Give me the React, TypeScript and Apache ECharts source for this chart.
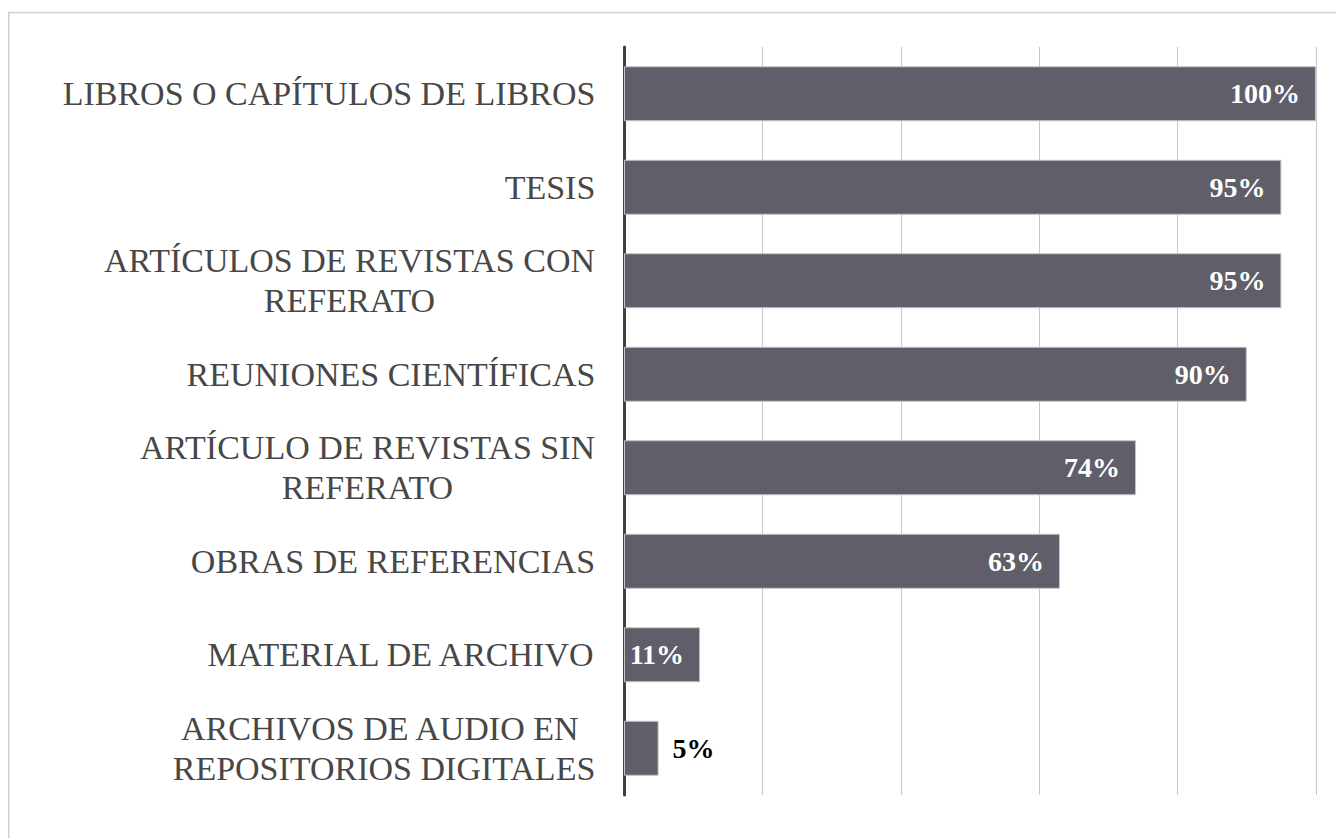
import React, { useEffect, useRef } from "react";
import * as echarts from "echarts";

const categories = [
  "LIBROS O CAPÍTULOS DE LIBROS",
  "TESIS",
  "ARTÍCULOS DE REVISTAS CON\nREFERATO",
  "REUNIONES CIENTÍFICAS",
  "ARTÍCULO DE REVISTAS SIN\nREFERATO",
  "OBRAS DE REFERENCIAS",
  "MATERIAL DE ARCHIVO",
  "ARCHIVOS DE AUDIO EN \nREPOSITORIOS DIGITALES",
];
const values = [100, 95, 95, 90, 74, 63, 11, 5];
const xMin = 0;
const xMax = 100;
const xInterval = 20;

const LABEL_FONT = '"Liberation Serif", "DejaVu Serif", serif';
const LABEL_SIZE = 34;

function measure(text: string): number {
  const c = document.createElement("canvas");
  const ctx = c.getContext("2d");
  if (!ctx) return text.length * LABEL_SIZE * 0.6;
  ctx.font = `${LABEL_SIZE}px ${LABEL_FONT}`;
  return ctx.measureText(text).width;
}

export default function App() {
  const ref = useRef<HTMLDivElement>(null);
  useEffect(() => {
    if (!ref.current) return;
    const chart = echarts.init(ref.current, undefined, { renderer: "svg" });
    const rich: Record<string, any> = {};
    categories.forEach((c, i) => {
      const w = Math.max(...c.split("\n").map(measure));
      rich["c" + i] = {
        width: Math.ceil(w) + 1,
        align: "center",
        fontFamily: LABEL_FONT,
        fontSize: LABEL_SIZE,
        color: "#474747",
        lineHeight: 40,
      };
    });
    const data = values.map((v) =>
      v < 8
        ? { value: v, label: { position: "right", distance: 14, color: "#000000" } }
        : v
    );
    chart.setOption({
      animation: false,
      backgroundColor: "#ffffff",
      graphic: [
        { type: "line", shape: { x1: 0, y1: 4.5, x2: 1328, y2: 4.5 }, style: { stroke: "#d0d0d0", lineWidth: 1.5 } },
        { type: "line", shape: { x1: 0.75, y1: 4.5, x2: 0.75, y2: 830 }, style: { stroke: "#d0d0d0", lineWidth: 1.5 } },
      ],
      grid: { left: 616, right: 20, top: 39, bottom: 43, containLabel: false },
      xAxis: {
        type: "value",
        min: xMin,
        max: xMax,
        interval: xInterval,
        axisLabel: { show: false },
        axisLine: { show: false },
        axisTick: { show: false },
        splitLine: { show: true, lineStyle: { color: "#c8c8c8", width: 1 } },
      },
      yAxis: {
        type: "category",
        inverse: true,
        data: categories,
        axisTick: { show: false },
        axisLine: { show: true, lineStyle: { color: "#404040", width: 3 } },
        axisLabel: {
          margin: 28,
          align: "right",
          formatter: (val: string, idx: number) =>
            val
              .split("\n")
              .map((l) => `{c${idx}|${l}}`)
              .join("\n"),
          rich,
        },
      },
      series: [
        {
          type: "bar",
          data,
          barWidth: 55,
          itemStyle: { color: "#605f69", borderColor: "#c4c4c8", borderWidth: 1 },
          label: {
            show: true,
            position: "insideRight",
            distance: 16,
            formatter: "{c}%",
            color: "#ffffff",
            fontFamily: LABEL_FONT,
            fontWeight: "bold",
            fontSize: 28,
          },
        },
      ],
    });
    return () => chart.dispose();
  }, []);
  return <div ref={ref} style={{ width: 1328, height: 830 }} />;
}
